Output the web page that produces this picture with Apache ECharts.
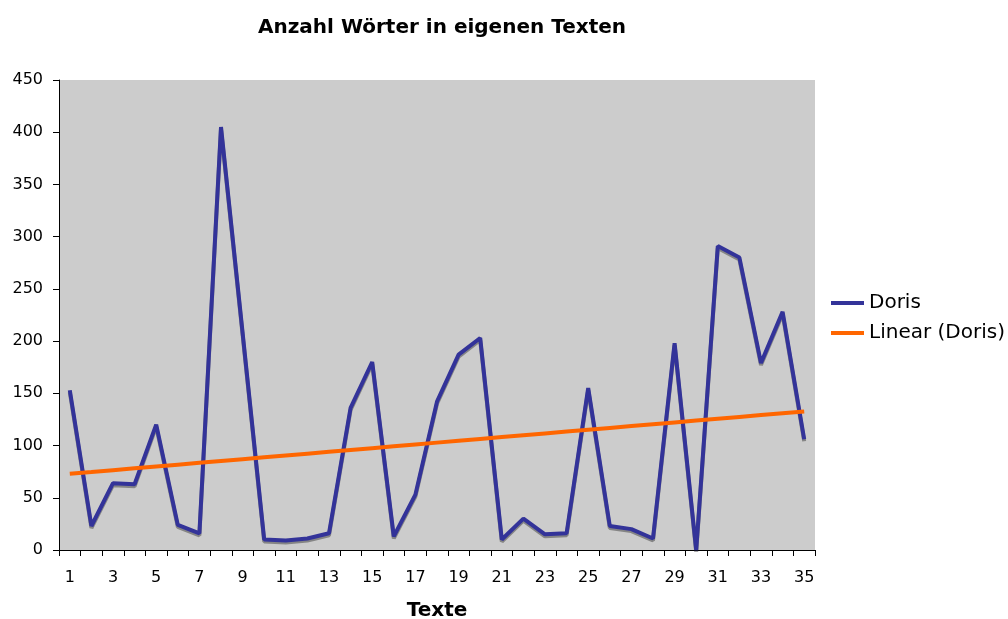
<!DOCTYPE html>
<html>
<head>
<meta charset="utf-8">
<title>Anzahl Wörter in eigenen Texten</title>
<script src="https://cdn.jsdelivr.net/npm/echarts@6/dist/echarts.min.js"></script>
<style>
  html, body { margin: 0; padding: 0; background: #fff; }
  #main { width: 1008px; height: 619px; }
</style>
</head>
<body>
<div id="main"></div>
<script>
// Texte 1..35
const texte = ['1', '2', '3', '4', '5', '6', '7', '8', '9', '10', '11', '12', '13', '14', '15', '16', '17', '18',
  '19', '20', '21', '22', '23', '24', '25', '26', '27', '28', '29', '30', '31', '32', '33', '34', '35']
// Anzahl Wörter (Doris)
const doris = [153, 23, 64, 63, 120, 24, 16, 405, 208, 10, 9, 11, 16, 136, 180, 13, 53, 142,
  187, 203, 10, 30, 15, 16, 155, 23, 20, 11, 198, 0, 291, 280, 179, 228, 106]

// lineare Trendlinie (kleinste Quadrate), wie in Excel
function linearTrend (values) {
  const n = values.length
  let sx = 0, sy = 0, sxx = 0, sxy = 0
  values.forEach((y, i) => {
    const x = i + 1
    sx += x; sy += y; sxx += x * x; sxy += x * y
  })
  const slope = (n * sxy - sx * sy) / (n * sxx - sx * sx)
  const icpt = (sy - slope * sx) / n
  return values.map((y, i) => +(icpt + slope * (i + 1)).toFixed(2))
}
const trend = linearTrend(doris)

const font = 'DejaVu Sans, Verdana, sans-serif'
let myChart = echarts.init(document.getElementById('main'))
let option = {
  animation: false,
  title: {
    text: 'Anzahl Wörter in eigenen Texten',
    left: 437,
    top: 13,
    textAlign: 'center',
    textStyle: {
      fontFamily: font,
      fontSize: 20,
      fontWeight: 'bold',
      color: '#000'
    }
  },
  legend: {
    orient: 'vertical',
    left: 831,
    top: 293,
    padding: 0,
    icon: 'rect',
    itemWidth: 33,
    itemHeight: 4,
    itemGap: 10,
    textStyle: {
      fontFamily: font,
      fontSize: 20,
      color: '#000'
    },
    data: ['Doris', 'Linear (Doris)']
  },
  grid: {
    left: 59,
    right: 193,
    top: 80,
    bottom: 69,
    show: true,
    backgroundColor: '#cccccc',
    borderWidth: 0,
    containLabel: false,
    outerBoundsMode: 'none'
  },
  xAxis: {
    type: 'category',
    data: texte,
    boundaryGap: true,
    name: 'Texte',
    nameLocation: 'middle',
    nameGap: 51,
    nameTextStyle: {
      fontFamily: font,
      fontSize: 20,
      fontWeight: 'bold',
      color: '#000'
    },
    axisLine: { lineStyle: { color: '#000', width: 1 } },
    axisTick: { show: true, interval: 0, length: 6, lineStyle: { color: '#000' } },
    axisLabel: {
      interval: 1,
      margin: 20,
      fontFamily: font,
      fontSize: 16,
      color: '#000'
    },
    splitLine: { show: false }
  },
  yAxis: {
    type: 'value',
    min: 0,
    max: 450,
    interval: 50,
    axisLine: { show: true, lineStyle: { color: '#000', width: 1 } },
    axisTick: { show: true, length: 6, lineStyle: { color: '#000' } },
    axisLabel: {
      margin: 16,
      fontFamily: font,
      fontSize: 16,
      color: '#000'
    },
    splitLine: { show: false }
  },
  series: [
    {
      name: 'Doris',
      type: 'line',
      data: doris,
      symbol: 'none',
      color: '#333399',
      lineStyle: {
        width: 4,
        color: '#333399',
        shadowColor: 'rgba(0, 0, 0, 0.35)',
        shadowOffsetY: 2,
        shadowOffsetX: 0,
        shadowBlur: 0
      },
      z: 2
    },
    {
      name: 'Linear (Doris)',
      type: 'line',
      data: trend,
      symbol: 'none',
      color: '#ff6600',
      lineStyle: {
        width: 4,
        color: '#ff6600'
      },
      z: 3
    }
  ]
}
myChart.setOption(option)
</script>
</body>
</html>
